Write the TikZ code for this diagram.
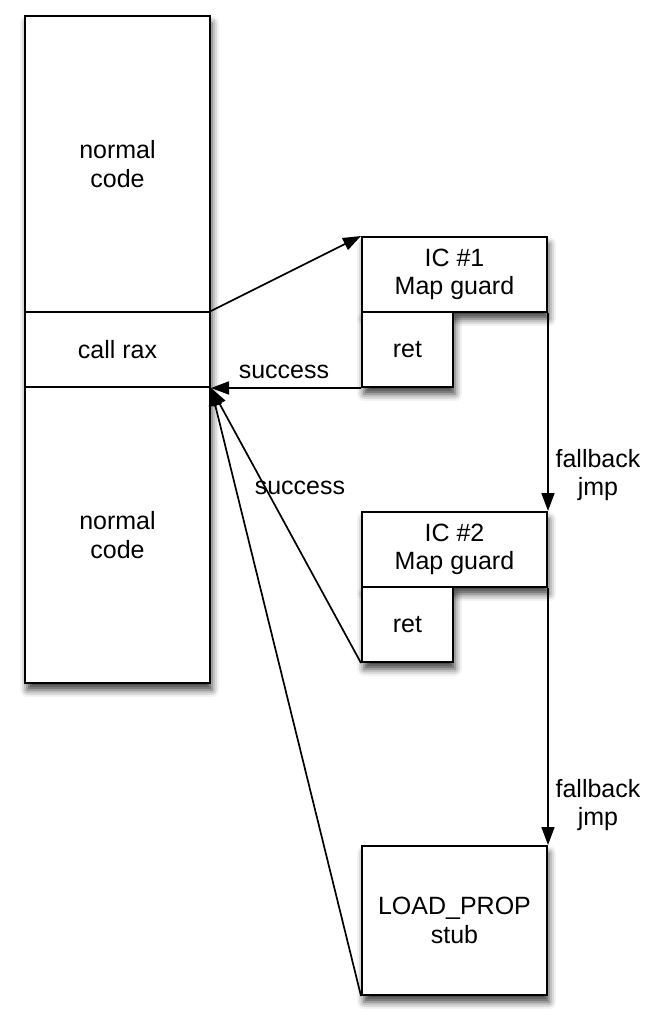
\documentclass[tikz,border=0pt]{standalone}
\usepackage{fontspec}
\setmainfont{Liberation Sans}
\usetikzlibrary{arrows.meta,shadows.blur}
\begin{document}
\begin{tikzpicture}[x=1pt,y=-1pt,
  font=\fontsize{25}{28.5}\selectfont,
  box/.style={draw,line width=2pt,fill=white,inner sep=0pt,align=center,anchor=north west},
  shad/.style={blur shadow={shadow xshift=2pt,shadow yshift=-7pt,shadow blur radius=7pt,shadow opacity=75}},
  arr/.style={line width=1.7pt,-{Triangle[length=18pt,width=13pt]}},
  lbl/.style={inner sep=0pt,align=center}]
\useasboundingbox (0,0) rectangle (647,1025);
% left column
\node[box,shad,minimum width=185pt,minimum height=667pt] (col) at (24,15) {};
\node[box,minimum width=185pt,minimum height=296pt] (top) at (24,15) {normal\\code};
\node[box,minimum width=185pt,minimum height=75pt] (call) at (24,311) {call rax};
\node[box,minimum width=185pt,minimum height=296pt] (bot) at (24,386) {normal\\code};
% IC 1
\node[box,shad,minimum width=185pt,minimum height=75pt] (g1) at (361,236) {IC \#1\\Map guard};
\node[box,shad,minimum width=91pt,minimum height=75pt] (r1) at (361,311) {ret};
% IC 2
\node[box,shad,minimum width=185pt,minimum height=75pt] (g2) at (361,511) {IC \#2\\Map guard};
\node[box,shad,minimum width=91pt,minimum height=75pt] (r2) at (361,586) {ret};
% stub
\node[box,shad,minimum width=185pt,minimum height=149pt] (ld) at (361,845) {LOAD\_PROP\\stub};
% arrows
\draw[arr] (call.north east) -- (g1.north west);
\draw[arr] (r1.south west) -- (call.south east);
\draw[arr] (r2.south west) -- (call.south east);
\draw[arr] (ld.south west) -- (call.south east);
\draw[arr] (g1.south east) -- (g2.north east);
\draw[arr] (g2.south east) -- (ld.north east);
% labels
\node[lbl] (s1) at (284,372) {success};
\node[lbl] (s2) at (300,488) {success};
\node[lbl] (f1) at (598,475) {fallback\\jmp};
\node[lbl] (f2) at (598,805) {fallback\\jmp};
\end{tikzpicture}
\end{document}
